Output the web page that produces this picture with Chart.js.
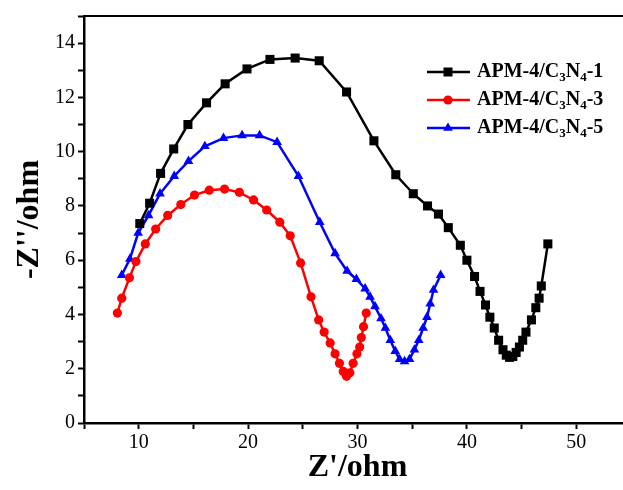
<!DOCTYPE html>
<html lang="en">
<head>
<meta charset="UTF-8">
<title>Nyquist</title>
<script src="https://cdn.jsdelivr.net/npm/chart.js"></script>
<style>
  body { margin: 0; overflow: hidden; background: #fff; }
  #wrap { width: 623px; height: 490px; overflow: hidden; }
  canvas { display: block; }
</style>
</head>
<body>
<div id="wrap"><canvas id="myChart" width="640" height="490"></canvas></div>
<script>
  // series names
  var seriesLabels = ['APM-4/C₃N₄-1', 'APM-4/C₃N₄-3', 'APM-4/C₃N₄-5'];

  // APM-4/C3N4-1 (black squares)
  var x1 = [10.1, 11.0, 12.0, 13.2, 14.5, 16.2, 17.9, 19.9, 22.0, 24.3, 26.5, 29.0, 31.5, 33.5, 35.1, 36.4, 37.4, 38.3, 39.4, 40.0,
            40.7, 41.2, 41.7, 42.1, 42.5, 42.9, 43.3, 43.6, 43.9, 44.2, 44.5, 44.8, 45.1, 45.4, 45.9, 46.3, 46.6, 46.8, 47.4];
  var y1 = [7.35, 8.1, 9.2, 10.1, 11.0, 11.8, 12.5, 13.05, 13.4, 13.45, 13.35, 12.2, 10.4, 9.15, 8.45, 8.0, 7.7, 7.2, 6.55, 6.0,
            5.4, 4.85, 4.35, 3.9, 3.5, 3.05, 2.7, 2.5, 2.42, 2.45, 2.6, 2.8, 3.05, 3.35, 3.8, 4.25, 4.6, 5.05, 6.6];

  // APM-4/C3N4-3 (red circles)
  var x3 = [8.05, 8.45, 9.15, 9.75, 10.6, 11.55, 12.65, 13.85, 15.1, 16.45, 17.85, 19.2, 20.5, 21.7, 22.9, 23.85, 24.8, 25.75,
            26.45, 26.95, 27.5, 27.95, 28.35, 28.7, 29.0, 29.3, 29.6, 29.95, 30.2, 30.35, 30.55, 30.8];
  var y3 = [4.05, 4.6, 5.35, 5.95, 6.6, 7.15, 7.65, 8.05, 8.4, 8.58, 8.62, 8.5, 8.22, 7.85, 7.4, 6.9, 5.9, 4.65,
            3.8, 3.35, 2.95, 2.55, 2.2, 1.9, 1.72, 1.85, 2.2, 2.55, 2.8, 3.15, 3.55, 4.05];

  // APM-4/C3N4-5 (blue triangles)
  var x5 = [8.45, 9.2, 9.95, 10.9, 11.95, 13.25, 14.55, 16.05, 17.75, 19.45, 21.05, 22.65, 24.6, 26.55, 27.95, 29.05, 29.9,
            30.7, 31.15, 31.6, 32.15, 32.55, 33.0, 33.45, 33.85, 34.3, 34.75, 35.2, 35.6, 36.0, 36.35, 36.65, 36.95, 37.6];
  var y5 = [5.45, 6.05, 7.0, 7.65, 8.45, 9.1, 9.65, 10.2, 10.5, 10.6, 10.6, 10.35, 9.1, 7.4, 6.25, 5.6, 5.3,
            4.95, 4.65, 4.3, 3.85, 3.5, 3.05, 2.65, 2.35, 2.27, 2.35, 2.7, 3.05, 3.5, 3.9, 4.4, 4.9, 5.45];

  var colors = ['#000000', '#ff0000', '#0000ff'];
  var markers = ['rect', 'circle', 'triangle'];
  var markerSize = [6.4, 4.6, 5.6];

  function pares(xs, ys) {
    var out = [];
    for (var i = 0; i < xs.length; i++) out.push({ x: xs[i], y: ys[i] });
    return out;
  }

  var allX = [x1, x3, x5];
  var allY = [y1, y3, y5];
  var datasets = [];
  for (var i = 0; i < 3; i++) {
    datasets.push({
      label: seriesLabels[i],
      data: pares(allX[i], allY[i]),
      showLine: true,
      borderColor: colors[i],
      backgroundColor: colors[i],
      borderWidth: 2.5,
      pointStyle: markers[i],
      pointRadius: markerSize[i],
      pointBorderWidth: 0,
      tension: 0
    });
  }

  var serif = '"Liberation Serif", "Times New Roman", serif';
  var subs = { '₃': '3', '₄': '4' };

  // legend drawn inside the plot, with subscripts
  var legendInterno = {
    id: 'legendInterno',
    afterDraw: function (chart) {
      var ctx = chart.ctx;
      ctx.save();
      for (var i = 0; i < chart.data.datasets.length; i++) {
        var ds = chart.data.datasets[i];
        var yy = 72 + 28 * i;
        ctx.strokeStyle = ds.borderColor;
        ctx.lineWidth = 2.5;
        ctx.beginPath();
        ctx.moveTo(427, yy);
        ctx.lineTo(470, yy);
        ctx.stroke();
        ctx.fillStyle = ds.borderColor;
        var mx = 448, r = ds.pointRadius;
        ctx.beginPath();
        if (ds.pointStyle === 'rect') {
          var s = r * Math.SQRT1_2;
          ctx.rect(mx - s, yy - s, 2 * s, 2 * s);
        } else if (ds.pointStyle === 'circle') {
          ctx.arc(mx, yy, r, 0, Math.PI * 2);
        } else {
          ctx.moveTo(mx, yy - r);
          ctx.lineTo(mx + r * 0.866, yy + r * 0.5);
          ctx.lineTo(mx - r * 0.866, yy + r * 0.5);
          ctx.closePath();
        }
        ctx.fill();

        ctx.fillStyle = '#000';
        ctx.textBaseline = 'middle';
        ctx.textAlign = 'left';
        var tx = 477;
        var txt = ds.label;
        for (var k = 0; k < txt.length; k++) {
          var ch = txt[k];
          if (subs[ch]) {
            ctx.font = 'bold 13px ' + serif;
            ctx.fillText(subs[ch], tx, yy + 6);
            tx += ctx.measureText(subs[ch]).width;
          } else {
            ctx.font = 'bold 20px ' + serif;
            ctx.fillText(ch, tx, yy);
            tx += ctx.measureText(ch).width;
          }
        }
      }
      ctx.restore();
    }
  };

  // top frame line
  var bordaTopo = {
    id: 'bordaTopo',
    afterDraw: function (chart) {
      var a = chart.chartArea, ctx = chart.ctx;
      ctx.save();
      ctx.strokeStyle = '#000';
      ctx.lineWidth = 2;
      ctx.beginPath();
      ctx.moveTo(a.left, a.top);
      ctx.lineTo(a.right + 5, a.top);
      ctx.stroke();
      ctx.restore();
    }
  };

  const config = {
    type: 'scatter',
    data: { datasets: datasets },
    options: {
      responsive: false,
      animation: false,
      layout: { padding: { top: 16, right: 9, left: 0, bottom: 0 } },
      plugins: { legend: { display: false }, tooltip: { enabled: false } },
      scales: {
        x: {
          type: 'linear',
          min: 5,
          max: 55,
          afterFit: function (s) { s.height = 67; },
          border: { display: true, color: '#000', width: 2.5 },
          grid: { drawOnChartArea: false, drawTicks: true, tickLength: 6, tickWidth: 2, tickColor: '#000' },
          ticks: {
            stepSize: 5,
            autoSkip: false,
            maxRotation: 0,
            padding: 2,
            color: '#000',
            font: { family: serif, size: 20 },
            callback: function (v) { return (v % 10 === 0 && v > 5 && v < 55) ? v : ''; }
          },
          title: {
            display: true,
            text: "Z'/ohm",
            color: '#000',
            font: { family: serif, size: 32, weight: 'bold' },
            padding: { top: 0, bottom: 3 }
          }
        },
        y: {
          min: 0,
          max: 15,
          afterFit: function (s) { s.width = 84; },
          border: { display: true, color: '#000', width: 2.5 },
          grid: { drawOnChartArea: false, drawTicks: true, tickLength: 6, tickWidth: 2, tickColor: '#000' },
          ticks: {
            stepSize: 1,
            autoSkip: false,
            padding: 3,
            color: '#000',
            font: { family: serif, size: 20 },
            callback: function (v) { return (v % 2 === 0) ? v : ''; }
          },
          title: {
            display: true,
            text: "-Z''/ohm",
            color: '#000',
            font: { family: serif, size: 32, weight: 'bold' },
            padding: { top: 11, bottom: 0 }
          }
        }
      }
    },
    plugins: [legendInterno, bordaTopo]
  };

  const myChart = new Chart(document.getElementById('myChart'), config);
</script>
</body>
</html>
